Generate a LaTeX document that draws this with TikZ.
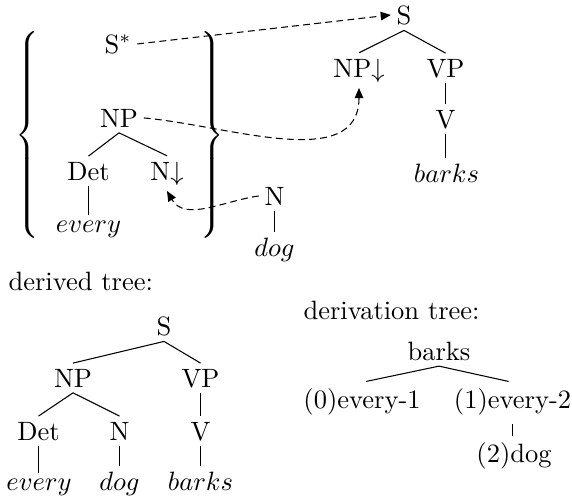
\documentclass[tikz,border=0pt]{standalone}
\usetikzlibrary{arrows.meta}
\begin{document}
\begin{tikzpicture}[x=0.3774pt,y=-0.3774pt,
  lbl/.style={anchor=base,inner sep=2pt},
  edge/.style={line width=0.4pt},
  link/.style={dash pattern=on 2.6pt off 1.6pt,-{Triangle[length=3.8pt,width=3.2pt]}},
  brc/.style={inner sep=0pt}]
\useasboundingbox (0,0) rectangle (572,501);
% braces
\node[brc] (lbr) at (29,135) {$\left\{\vcenter{\hbox{\rule{0pt}{78pt}}}\right.$};
\node[brc] (rbr) at (211,135) {$\left.\vcenter{\hbox{\rule{0pt}{78pt}}}\right\}$};
% auxiliary trees
\node[lbl] (sstar) at (118,53) {S$^*$};
\node[lbl] (np1) at (119,127) {NP};
\node[lbl] (det1) at (88.5,180) {Det};
\node[lbl] (n1) at (167,180) {N$\downarrow$};
\node[lbl] (every1) at (88.5,232) {$every$};
\node[lbl] (n2) at (274.5,205) {N};
\node[lbl] (dog1) at (274.5,256) {$dog$};
\node[lbl] (s1) at (404,24) {S};
\node[lbl] (np2) at (359,77) {NP$\downarrow$};
\node[lbl] (vp1) at (445.5,77) {VP};
\node[lbl] (v1) at (445.5,128) {V};
\node[lbl] (barks1) at (446.5,182) {$barks$};
\draw[edge] (np1.south) -- (det1.north);
\draw[edge] (np1.south) -- (n1.north);
\draw[edge] (det1.south) -- (det1.south |- every1.north);
\draw[edge] (n2.south) -- (n2.south |- dog1.north);
\draw[edge] (s1.south) -- (np2.north);
\draw[edge] (s1.south) -- (vp1.north);
\draw[edge] (vp1.south) -- (v1.north);
\draw[edge] (v1.south) -- (v1.south |- barks1.north);
% substitution / adjunction links
\draw[link] (sstar.east) -- (s1.west);
\draw[link] (np1.east) to[out=-5,in=-90] (np2.south);
\draw[link] (n2.west) to[out=188,in=-60] (n1.south);
% derived tree
\node[anchor=base west,inner sep=0pt] (dlab) at (8,290) {derived tree:};
\node[lbl] (s2) at (164,335) {S};
\node[lbl] (np3) at (73,387) {NP};
\node[lbl] (vp2) at (200.5,387) {VP};
\node[lbl] (det2) at (38.5,440) {Det};
\node[lbl] (n3) at (119.5,440) {N};
\node[lbl] (v2) at (200.5,440) {V};
\node[lbl] (every2) at (39,490) {$every$};
\node[lbl] (dog2) at (119.5,490) {$dog$};
\node[lbl] (barks2) at (200.5,490) {$barks$};
\draw[edge] (s2.south) -- (np3.north);
\draw[edge] (s2.south) -- (vp2.north);
\draw[edge] (np3.south) -- (det2.north);
\draw[edge] (np3.south) -- (n3.north);
\draw[edge] (vp2.south) -- (v2.north);
\draw[edge] (det2.south) -- (det2.south |- every2.north);
\draw[edge] (n3.south) -- (n3.south |- dog2.north);
\draw[edge] (v2.south) -- (v2.south |- barks2.north);
% derivation tree
\node[anchor=base west,inner sep=0pt] (dtlab) at (303,319) {derivation tree:};
\node[lbl] (b3) at (439,360) {barks};
\node[lbl] (e1) at (362,408) {(0)every-1};
\node[lbl] (e2) at (512.5,408) {(1)every-2};
\node[lbl] (d3) at (514,462) {(2)dog};
\draw[edge,shorten >=1.5pt] (b3.south) -- (e1.north);
\draw[edge,shorten >=1.5pt] (b3.south) -- (e2.north);
\draw[edge,shorten <=1.5pt] (e2.south) -- (e2.south |- d3.north);
\end{tikzpicture}
\end{document}
